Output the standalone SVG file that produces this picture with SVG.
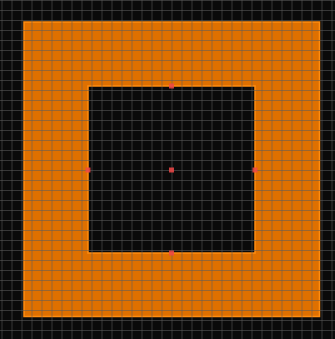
<svg xmlns="http://www.w3.org/2000/svg" width="335" height="339" viewBox="0 0 335 339">
  <defs>
    <style>
      .bg { fill: #0a0a0a; }
      .shape { fill: #df7000; fill-rule: evenodd; stroke: #ff8c10; stroke-width: 1.5; }
      .grid line { stroke: #5a5a5a; stroke-opacity: 0.55; stroke-width: 1; }
      .grid line.major { stroke-opacity: 0.75; }
      .handle { fill: #f04848; fill-opacity: 0.85; }
    </style>
    <pattern id="gridPat" x="1.5" y="0" width="10" height="10" patternUnits="userSpaceOnUse">
      <path d="M0.5 0 V10 M0 0.5 H10" stroke="#5a5a5a" stroke-opacity="0.55" stroke-width="1" fill="none"/>
    </pattern>
  </defs>
  <rect class="bg" x="0" y="0" width="335" height="339"/>
  <g id="room">
    <path class="shape" d="M24 22 H319.5 V316.5 H24 Z M88 86 V253 H255 V86 Z"/>
  </g>
  <g id="grid">
    <rect x="0" y="0" width="335" height="339" fill="url(#gridPat)"/>
  </g>
  <g id="handles">
    <rect class="handle" x="169" y="83.5" width="5" height="5"/>
    <rect class="handle" x="85.5" y="167.5" width="5" height="5"/>
    <rect class="handle" x="252.5" y="167.5" width="5" height="5"/>
    <rect class="handle" x="169" y="250.5" width="5" height="5"/>
    <rect class="handle" x="169" y="167.5" width="5" height="5"/>
  </g>
</svg>
